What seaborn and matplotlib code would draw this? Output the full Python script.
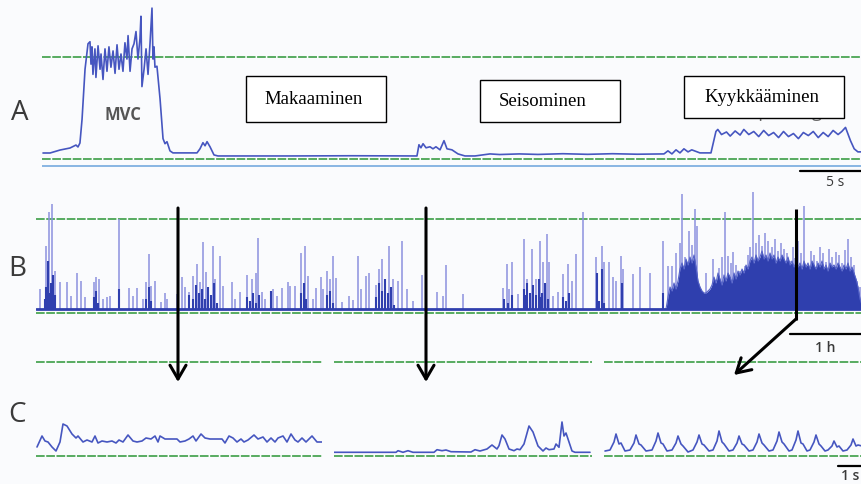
import matplotlib
matplotlib.use("Agg")
import matplotlib.pyplot as plt
import pandas as pd
import seaborn as sns
from matplotlib.patches import Rectangle

sns.set_theme(style="white")
plt.rcParams["font.family"] = ["Open Sans", "DejaVu Sans"]

# ---------------- data ----------------
# A: raw EMG amplitude, seconds vs %MVC
A_TRACE = [
    (0.08, 5.9), (0.65, 5.9), (1.45, 8.8), (2.26, 10.8), (2.74, 13.7), (2.90, 11.8), (3.06, 15.7),
    (3.23, 39), (3.47, 88), (3.71, 113), (3.87, 115), (3.95, 93), (4.03, 110), (4.11, 83),
    (4.27, 108), (4.35, 80), (4.52, 111), (4.68, 88), (4.76, 103), (4.92, 78), (5.08, 108),
    (5.24, 86), (5.40, 110), (5.56, 90), (5.73, 106), (5.89, 84), (6.05, 112), (6.21, 88),
    (6.37, 103), (6.53, 86), (6.69, 114), (6.85, 98), (6.94, 121), (7.10, 86), (7.26, 108),
    (7.42, 113), (7.58, 125), (7.74, 98), (7.90, 118), (7.98, 140), (8.06, 71), (8.23, 88),
    (8.39, 108), (8.55, 83), (8.71, 113), (8.87, 148), (8.95, 98), (9.03, 110), (9.11, 90),
    (9.27, 91), (9.52, 59), (9.76, 20), (9.92, 15), (10.08, 17), (10.32, 8), (10.56, 6),
    (12.50, 6), (12.74, 10), (12.98, 16), (13.15, 13), (13.31, 17), (13.55, 12), (13.87, 4),
    (14.19, 3), (20.0, 3), (25.0, 3.2), (30.24, 3), (30.40, 14), (30.56, 11), (30.73, 15),
    (30.97, 11), (31.29, 12), (31.53, 10), (31.77, 12), (32.10, 9), (32.42, 18), (32.66, 10),
    (33.06, 9), (33.55, 5), (34.11, 3), (34.92, 3), (36.13, 5), (36.90, 4.4), (38.5, 5),
    (40.0, 4.5), (42.0, 5.2), (44.0, 4.6), (46.0, 5.2), (48.0, 4.7), (50.16, 5), (50.48, 8),
    (50.80, 5), (51.13, 9), (51.45, 6), (51.77, 10), (52.10, 7), (52.40, 9), (53.06, 6),
    (53.95, 6), (54.35, 27), (54.50, 29), (54.80, 24), (55.20, 26.5), (55.50, 22.5),
    (55.90, 27.5), (56.30, 23.5), (56.60, 29), (57.0, 24), (57.4, 27), (57.8, 22), (58.2, 28),
    (58.6, 23), (59.0, 26), (59.4, 21), (59.8, 27), (60.2, 22), (60.6, 25), (61.0, 20),
    (61.4, 26), (61.8, 23), (62.2, 27), (62.6, 21), (63.0, 26), (63.4, 22), (63.8, 28),
    (64.2, 24), (64.5, 27), (64.8, 31), (65.2, 18), (65.5, 10), (65.8, 7), (66.1, 7),
]
A_DURATION = 66.13          # s
A_REF = (0, 100)            # %MVC reference levels
A_ZERO = -6.9               # recorder zero line
A_SCALE = 5                 # s

# B: 12-hour recording, 50-s epochs (72 epochs = 1 h); (epoch, amplitude)
B_SPIKES = [
    (4, 24), (10, 67), (13, 101), (16, 109), (19, 42), (24, 31), (31, 31), (35, 17), (41, 40), (45, 32),
    (49, 16), (58, 31), (60, 36), (63, 34), (67, 14), (71, 16), (74, 17), (83, 94), (93, 25), (97, 17),
    (101, 25), (107, 14), (110, 31), (113, 59), (115, 27), (119, 32), (125, 11), (129, 20), (131, 14), (141, 19),
    (146, 36), (149, 26), (153, 21), (157, 37), (161, 49), (164, 31), (167, 71), (170, 41), (172, 26), (177, 67),
    (179, 34), (184, 57), (187, 27), (196, 31), (199, 14), (204, 21), (211, 38), (216, 34), (220, 40), (222, 75),
    (226, 21), (229, 14), (237, 24), (241, 17), (246, 25), (252, 31), (254, 27), (259, 27), (265, 60), (269, 67),
    (272, 37), (277, 14), (280, 25), (285, 36), (287, 24), (291, 42), (294, 34), (297, 57), (300, 35), (306, 11),
    (313, 17), (317, 13), (322, 57), (325, 24), (330, 37), (333, 40), (340, 28), (343, 44), (346, 54), (349, 24),
    (353, 67), (357, 34), (362, 32), (366, 72), (371, 24), (377, 12), (386, 38), (401, 21), (407, 17), (410, 48),
    (427, 19), (467, 25), (471, 49), (473, 24), (476, 51), (482, 19), (488, 74), (491, 34), (496, 64), (500, 34),
    (504, 72), (507, 51), (511, 79), (513, 51), (517, 17), (522, 21), (527, 39), (532, 49), (536, 32), (540, 59),
    (547, 101), (560, 56), (566, 67), (568, 51), (573, 51), (577, 36), (580, 32), (585, 57), (587, 44), (597, 39),
    (604, 46), (614, 40), (627, 72), (632, 47), (636, 47), (640, 60), (644, 70), (646, 119), (649, 56), (653, 82),
    (656, 68), (659, 104), (661, 87), (670, 40), (677, 54), (683, 45), (686, 56), (689, 101), (692, 57), (695, 50),
    (697, 61), (700, 48), (704, 42), (709, 47), (712, 58), (714, 66), (717, 121), (720, 70), (723, 78), (726, 67),
    (729, 80), (732, 72), (736, 66), (739, 74), (742, 62), (745, 70), (748, 64), (751, 60), (754, 52), (757, 66),
    (759, 55), (762, 72), (765, 60), (768, 107), (772, 47), (775, 62), (778, 58), (781, 52), (784, 66), (787, 60),
    (790, 51), (793, 64), (796, 56), (800, 61), (803, 58), (806, 50), (809, 63), (812, 74), (815, 56), (818, 48),
    (821, 32), (824, 26),
]
# dark cores of the activity bursts, (epoch, amplitude)
B_CORES = [
    (9, 14), (10, 26), (12, 52), (13, 20), (15, 30), (16, 24), (17, 38), (19, 18),
    (58, 16), (60, 22), (62, 10), (83, 24), (110, 14), (113, 26), (115, 12),
    (153, 18), (157, 14), (160, 28), (163, 20), (166, 24), (169, 14), (172, 26),
    (175, 18), (178, 30), (181, 10),
    (211, 16), (214, 12), (217, 20), (220, 10), (223, 18), (235, 22),
    (265, 20), (268, 30), (270, 14), (291, 18), (294, 22), (297, 10),
    (340, 16), (343, 30), (346, 22), (349, 34), (352, 20), (355, 26), (358, 8),
    (468, 14), (472, 10), (476, 18),
    (488, 24), (490, 18), (491, 30), (494, 20), (497, 28), (500, 18), (503, 34), (505, 16),
    (506, 20), (509, 30), (512, 14), (527, 16), (530, 12), (533, 20),
    (561, 40), (563, 12), (566, 44), (568, 10), (586, 30), (627, 20),
]
# sustained activity during the last hours, (epoch, amplitude)
B_DENSE = [
    (630, 4), (632, 16), (634, 26), (636, 22), (638, 30), (640, 24), (642, 32), (644, 44),
    (646, 50), (648, 44), (650, 54), (652, 48), (654, 56), (656, 50), (658, 58), (660, 46),
    (662, 32), (664, 26), (666, 22), (668, 20), (670, 20), (672, 22), (674, 24), (676, 28),
    (678, 36), (680, 30), (682, 40), (684, 34), (686, 28), (688, 38), (690, 32), (692, 40),
    (694, 36), (696, 30), (698, 40), (700, 34), (702, 42), (704, 38), (706, 44), (708, 40),
    (710, 48), (712, 44), (714, 52), (716, 56), (718, 50), (720, 58), (722, 52), (724, 56),
    (726, 62), (728, 54), (730, 58), (732, 52), (734, 60), (736, 54), (738, 58), (740, 50),
    (742, 56), (744, 52), (746, 58), (748, 54), (750, 50), (752, 56), (754, 48), (756, 52),
    (758, 46), (760, 50), (762, 46), (764, 50), (766, 44), (768, 52), (770, 46), (772, 50),
    (774, 44), (776, 52), (778, 48), (780, 44), (782, 50), (784, 46), (786, 52), (788, 44),
    (790, 48), (792, 42), (794, 50), (796, 46), (798, 48), (800, 44), (802, 50), (804, 46),
    (806, 42), (808, 48), (810, 44), (812, 50), (814, 42), (816, 46), (818, 40), (820, 34),
    (822, 26), (824, 14), (826, 8),
]
B_EPOCHS = 826
B_REF = (0, 94)
B_BASE = 4
B_SCALE = 72                # epochs per hour

# C: detail windows, 24 samples per second; (sample, amplitude)
C_LYING = [
    (1, 9), (6, 20), (9, 15), (12, 14), (16, 9), (20, 5), (24, 14), (27, 32), (31, 30), (36, 22),
    (40, 18), (42, 20), (47, 14), (51, 16), (56, 14), (59, 20), (62, 13), (66, 15), (71, 14), (76, 15),
    (80, 13), (83, 16), (87, 14), (92, 21), (97, 15), (101, 14), (106, 15), (110, 18), (115, 17), (119, 20),
    (122, 14), (124, 20), (129, 17), (134, 17), (141, 17), (144, 14), (149, 15), (153, 17), (157, 20), (160, 15),
    (165, 22), (169, 18), (174, 17), (186, 17), (189, 13), (193, 20), (197, 18), (201, 14), (205, 17), (208, 14),
    (212, 16), (218, 21), (222, 17), (227, 19), (231, 14), (235, 18), (239, 14), (242, 18), (247, 20), (251, 14),
    (255, 22), (259, 16), (262, 14), (266, 18), (270, 14), (276, 20), (281, 14), (286, 14),
]
C_STANDING = [
    (0, 3.7), (62, 3.7), (64, 5.3), (69, 3.7), (74, 5.3), (79, 3.7), (100, 3.7), (103, 6.3),
    (108, 5.3), (112, 6), (117, 4.3), (137, 4), (141, 6.3), (146, 5), (153, 7), (158, 11),
    (163, 7), (165, 10.3), (168, 21), (171, 17), (175, 7), (180, 5.3), (183, 7), (186, 6.3),
    (190, 12), (195, 30), (199, 24), (204, 10), (209, 5), (212, 8), (215, 6.3), (220, 7),
    (222, 12), (225, 8.7), (228, 34), (230, 20), (232, 23), (235, 14), (238, 5), (241, 3.7),
    (256, 3.7),
]
C_SQUAT = [
    (1, 5), (6, 6), (10, 14), (12, 22), (15, 12), (17, 13), (21, 5),
    (26, 6), (30, 13), (32, 21), (35, 12), (37, 11), (42, 5),
    (48, 6), (52, 15), (54, 23), (57, 13), (59, 12), (63, 5),
    (68, 6), (72, 13), (74, 20), (77, 12), (79, 10), (84, 4),
    (89, 6), (93, 14), (95, 21), (98, 12), (100, 11), (105, 5),
    (109, 6), (113, 15), (115, 25), (118, 14), (120, 12), (125, 5),
    (129, 6), (133, 13), (135, 20), (138, 12), (140, 11), (145, 5),
    (149, 6), (153, 14), (155, 22), (158, 13), (160, 11), (165, 5),
    (169, 6), (173, 15), (175, 24), (178, 14), (180, 12), (185, 5),
    (188, 6), (192, 16), (194, 25), (197, 13), (199, 12), (203, 5),
    (206, 6), (210, 14), (212, 21), (215, 12), (217, 10), (221, 5),
    (224, 6), (228, 10), (230, 15), (233, 9), (235, 10), (239, 5),
    (243, 6), (247, 11), (249, 17), (252, 10), (254, 11), (258, 10),
]
C_LENGTHS = (286, 258, 258)
C_REF = (0, 94)
C_SCALE = 24                # samples per second

LABELS = ["Makaaminen", "Seisominen", "Kyykkääminen"]

# ---------------- style ----------------
W, H = 862, 485
BG = "#fafbfd"
TRACE = "#4656c0"
SPIKE = "#8c91de"
DENSE = "#2f3fae"
GREEN = "#43a24d"
GREEN_LS = (0, (5, 0.9))
INK = "#3a3a3a"

fig = plt.figure(figsize=(W / 100, H / 100), dpi=100)
fig.patch.set_facecolor(BG)


def px_axes(x0, y0, x1, y1):
    ax = fig.add_axes([x0 / W, 1 - y1 / H, (x1 - x0) / W, (y1 - y0) / H])
    ax.set_axis_off()
    return ax


def frame(pairs, xname, yname):
    return pd.DataFrame(pairs, columns=[xname, yname])


def refs(ax, x_end, levels):
    for lv in levels:
        ax.plot([0, x_end], [lv, lv], color=GREEN, lw=1.25, ls=GREEN_LS, zorder=1)


# ---- panel A ----
ax_a = px_axes(42, 0, 862, 190)
ax_a.set_xlim(0, A_DURATION)
ax_a.set_ylim(-29.4, 156.9)
refs(ax_a, A_DURATION, A_REF)
ax_a.plot([0, A_DURATION], [A_ZERO, A_ZERO], color="#6aa3dc", lw=1.1, zorder=1)
sns.lineplot(data=frame(A_TRACE, "t", "mvc"), x="t", y="mvc", sort=False, estimator=None,
             color=TRACE, lw=1.2, ax=ax_a, zorder=3)
ax_a.plot([A_DURATION - A_SCALE, A_DURATION], [-11.8, -11.8], color="black", lw=1.6)
ax_a.text(A_DURATION - A_SCALE / 2 + 0.3, -22.5, f"{A_SCALE} s", ha="center", va="center",
          fontsize=10, color=INK)
ax_a.set_xlabel(""); ax_a.set_ylabel("")

# ---- panel B ----
ax_b = px_axes(36, 185, 862, 355)
ax_b.set_xlim(0, B_EPOCHS)
ax_b.set_ylim(-41, 129)
refs(ax_b, B_EPOCHS, B_REF)
spikes = frame(B_SPIKES, "epoch", "amp")
ax_b.vlines(spikes["epoch"], B_BASE, spikes["amp"], color=SPIKE, lw=1.1, zorder=2)
cores = frame(B_CORES, "epoch", "amp")
ax_b.vlines(cores["epoch"], B_BASE, cores["amp"], color=DENSE, lw=1.5, zorder=3)
dense = frame(B_DENSE, "epoch", "amp")
ax_b.fill_between(dense["epoch"], B_BASE, dense["amp"], color=DENSE, lw=0, zorder=3)
sns.lineplot(data=dense, x="epoch", y="amp", sort=False, estimator=None,
             color="#5563c8", lw=0.8, ax=ax_b, zorder=3)
ax_b.plot([0, B_EPOCHS], [B_BASE, B_BASE], color=DENSE, lw=2.0, zorder=4)
ax_b.plot([B_EPOCHS - B_SCALE, B_EPOCHS], [-21, -21], color="black", lw=1.6)
ax_b.text(B_EPOCHS - B_SCALE / 2 - 1, -34, "1 h", ha="center", va="center",
          fontsize=10, color=INK, fontweight="semibold")
ax_b.set_xlabel(""); ax_b.set_ylabel("")

# ---- panel C ----
c_lefts = (36, 334, 604)
c_traces = (C_LYING, C_STANDING, C_SQUAT)
c_axes = []
for left, n, tr in zip(c_lefts, C_LENGTHS, c_traces):
    ax = px_axes(left, 355, left + n, 485)
    ax.set_xlim(0, n)
    ax.set_ylim(-28, 102)
    refs(ax, n, C_REF)
    sns.lineplot(data=frame(tr, "sample", "amp"), x="sample", y="amp", sort=False,
                 estimator=None, color=TRACE, lw=1.2, ax=ax, zorder=3)
    ax.set_xlabel(""); ax.set_ylabel("")
    c_axes.append(ax)
ax_c3 = c_axes[-1]
n3 = C_LENGTHS[-1]
ax_c3.plot([n3 - C_SCALE, n3], [-9.5, -9.5], color="black", lw=1.6)
ax_c3.text(n3 - C_SCALE / 2, -19.5, "1 s", ha="center", va="center", fontsize=10,
           color=INK, fontweight="semibold")

# ---- annotations ----
ov = fig.add_axes([0, 0, 1, 1])
ov.set_xlim(0, W)
ov.set_ylim(H, 0)
ov.set_axis_off()

for letter, (x, y) in zip("ABC", [(20, 113), (17, 269), (17, 415)]):
    ov.text(x, y, letter, fontsize=20, ha="center", va="center", color=INK)

ov.text(123, 115, "MVC", fontsize=12, ha="center", va="center", color="#555555",
        fontweight="bold")
ov.text(782, 112, "Squatting", fontsize=13, ha="center", va="center", color="#6b6b6b", zorder=1)

boxes = [((246, 77, 140, 46), (314, 100)),
         ((480, 81, 140, 42), (543, 102)),
         ((684, 77, 160, 42), (762, 98))]
for label, ((bx, by, bw, bh), (tx, ty)) in zip(LABELS, boxes):
    ov.add_patch(Rectangle((bx, by), bw, bh, facecolor="white", edgecolor="black",
                           lw=1.0, zorder=2))
    ov.text(tx, ty, label, fontsize=13.5, ha="center", va="center", color="black",
            family=["Liberation Serif", "DejaVu Serif"], zorder=3)

arrow = dict(arrowstyle="->,head_length=0.55,head_width=0.32", lw=2.2, color="black",
             shrinkA=0, shrinkB=0, mutation_scale=18)
ov.annotate("", xy=(178, 383), xytext=(178, 209), arrowprops=arrow)
ov.annotate("", xy=(426, 383), xytext=(426, 209), arrowprops=arrow)
ov.plot([796, 796], [210, 321], color="black", lw=2.2, solid_capstyle="butt")
ov.annotate("", xy=(734, 376), xytext=(796, 320), arrowprops=arrow)

fig.savefig("out.png", dpi=100, facecolor=BG)
